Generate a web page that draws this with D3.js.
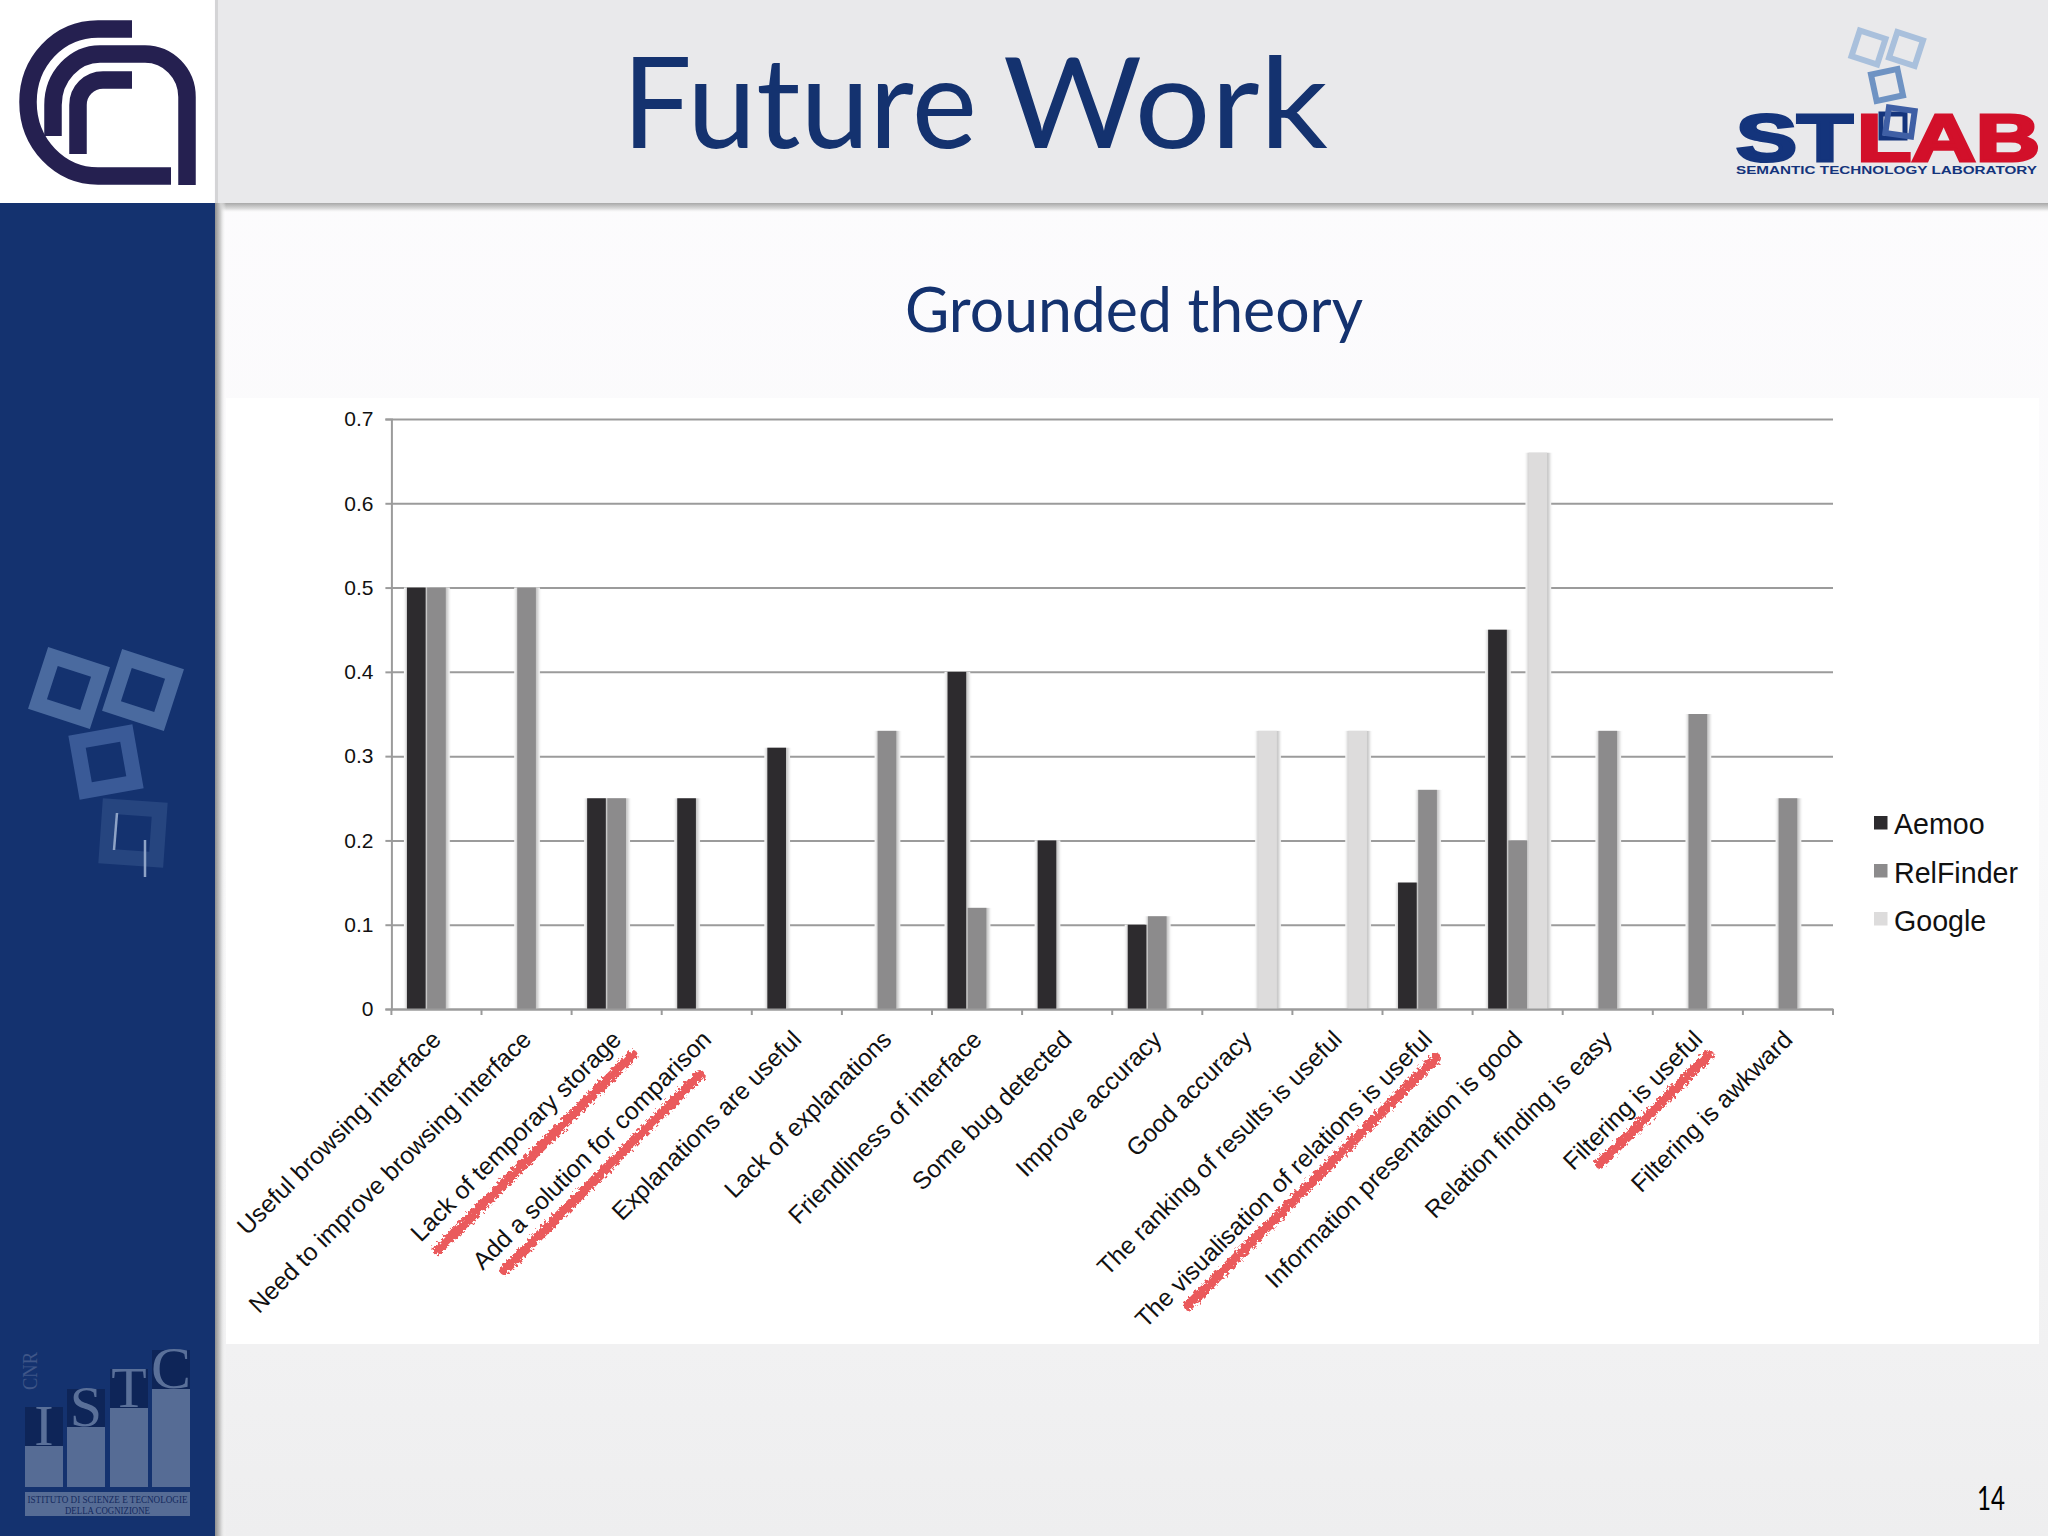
<!DOCTYPE html>
<html><head><meta charset="utf-8">
<script src="https://cdn.jsdelivr.net/npm/d3@7"></script>
<style>html,body{margin:0;padding:0;background:#fff}svg{display:block}</style>
</head><body><div id="c"></div>
<script>
const categories = ["Useful browsing interface","Need to improve browsing interface","Lack of temporary storage","Add a solution for comparison","Explanations are useful","Lack of explanations","Friendliness of interface","Some bug detected","Improve accuracy","Good accuracy","The ranking of results is useful","The visualisation of relations is useful","Information presentation is good","Relation finding is easy","Filtering is useful","Filtering is awkward"];
const seriesNames = ["Aemoo","RelFinder","Google"];
const aemoo     = [0.5,null,0.25,0.25,0.31,null,0.4,0.2,0.1,null,null,0.15,0.45,null,null,null];
const relFinder = [0.5,0.5,0.25,null,null,0.33,0.12,null,0.11,null,null,0.26,0.2,0.33,0.35,0.25];
const google    = [null,null,null,null,null,null,null,null,null,0.33,0.33,null,0.66,null,null,null];
const yTicks = [0,0.1,0.2,0.3,0.4,0.5,0.6,0.7];
const colors = ["#2d2b2e","#8c8b8c","#dddcdc"];
const struck = ["Lack of temporary storage","Add a solution for comparison","The visualisation of relations is useful","Filtering is useful"];

const NAVY="#14326f", INK="#111";
const svg=d3.select("#c").append("svg").attr("width",2048).attr("height",1536).attr("viewBox","0 0 2048 1536");
const defs=svg.append("defs");
function grad(id,x2,y2,stops){const g=defs.append("linearGradient").attr("id",id).attr("x1",0).attr("y1",0).attr("x2",x2).attr("y2",y2);
 stops.forEach(s=>g.append("stop").attr("offset",s[0]).attr("stop-color",s[1]).attr("stop-opacity",s[2]===undefined?1:s[2]));}
grad("bg",0,1,[[0,"#fdfcfe"],[0.55,"#f9f9fa"],[1,"#eeeeef"]]);
grad("shR",1,0,[[0,"#8f8f8f"],[0.5,"#cfcfcf"],[1,"#fff",0]]);
grad("shB",0,1,[[0,"#a8a8a8"],[0.6,"#dedede"],[1,"#fff",0]]);
const rough=defs.append("filter").attr("id","rough").attr("x","-10%").attr("y","-10%").attr("width","120%").attr("height","120%");
rough.append("feTurbulence").attr("type","fractalNoise").attr("baseFrequency",0.3).attr("numOctaves",3).attr("seed",4);
rough.append("feDisplacementMap").attr("in","SourceGraphic").attr("scale",7);
const soft=defs.append("filter").attr("id","soft").attr("x","-40%").attr("width","180%");
soft.append("feGaussianBlur").attr("stdDeviation","1.4 0");

// slide background
svg.append("rect").attr("width",2048).attr("height",1536).attr("fill","url(#bg)");
svg.append("rect").attr("x",215).attr("y",0).attr("width",1833).attr("height",203).attr("fill","#e9e9eb");
svg.append("rect").attr("x",215).attr("y",203).attr("width",1833).attr("height",10).attr("fill","url(#shB)");
svg.append("rect").attr("x",215).attr("y",0).attr("width",3).attr("height",203).attr("fill","#d4d4d6");
svg.append("rect").attr("width",214).attr("height",203).attr("fill","#fff");
svg.append("rect").attr("x",0).attr("y",203).attr("width",215).attr("height",1333).attr("fill",NAVY);
svg.append("rect").attr("x",215).attr("y",203).attr("width",11).attr("height",1333).attr("fill","url(#shR)");
svg.append("rect").attr("x",226).attr("y",398).attr("width",1813).attr("height",946).attr("fill","#fff");

// titles
svg.append("text").attr("x",622).attr("y",148).attr("textLength",355).attr("lengthAdjust","spacingAndGlyphs")
 .attr("font-family","Lato").attr("font-size",126).attr("fill",NAVY).text("Future");
svg.append("text").attr("x",1003).attr("y",148).attr("textLength",325).attr("lengthAdjust","spacingAndGlyphs")
 .attr("font-family","Lato").attr("font-size",126).attr("fill",NAVY).text("Work");
svg.append("text").attr("x",905).attr("y",332).attr("textLength",458).attr("lengthAdjust","spacingAndGlyphs")
 .attr("font-family","Lato").attr("font-size",62).attr("fill",NAVY).text("Grounded theory");
svg.append("text").attr("x",1977).attr("y",1510).attr("textLength",28).attr("lengthAdjust","spacingAndGlyphs").attr("font-family","Lato").attr("font-weight",400).attr("font-size",33).attr("fill","#000").text("14");

// CNR logo
const cnr=svg.append("g").attr("fill","none").attr("stroke","#252050").attr("stroke-width",17.5);
["M132,29 H98 C58,29 28,62 28,102 C28,144 60,176 98,176 H171",
 "M53,136 V105 C53,76 75,54 100,54 H145 C168,54 187,73 187,97 V185",
 "M132,80 H103 C89,80 78,91 78,105 V154"].forEach(d=>cnr.append("path").attr("d",d));

// rings
function ring(g,cx,cy,side,sw,rot,col){g.append("rect").attr("x",-side/2).attr("y",-side/2).attr("width",side).attr("height",side)
 .attr("transform",`translate(${cx},${cy}) rotate(${rot})`).attr("fill","none").attr("stroke",col).attr("stroke-width",sw);}
const side=svg.append("g");
ring(side,69,688,50,15,18,"#4a6a9f");ring(side,143,690,50,15,18,"#4a6a9f");
ring(side,106,762,50,15,-10,"#3a5a97");ring(side,133,833,50,15,4,"#26457f");
[[117,813,114,850],[145,840,145,877]].forEach(l=>side.append("line").attr("x1",l[0]).attr("y1",l[1]).attr("x2",l[2]).attr("y2",l[3]).attr("stroke","#8ea3c6").attr("stroke-width",2.5));

// STLAB logo
const st=svg.append("g");
ring(st,1868.5,47.5,27,6,18,"#a9c0dc");ring(st,1906,49,27,6,18,"#a9c0dc");ring(st,1887,85,27,6,-12,"#6f93c3");
st.append("text").attr("x",1736).attr("y",161).attr("textLength",117).attr("lengthAdjust","spacingAndGlyphs").attr("font-family","Liberation Sans").attr("font-weight",700).attr("font-size",66).attr("fill","#14347c").attr("stroke","#14347c").attr("stroke-width",3).text("ST");
st.append("text").attr("x",1857).attr("y",161).attr("textLength",183).attr("lengthAdjust","spacingAndGlyphs").attr("font-family","Liberation Sans").attr("font-weight",700).attr("font-size",66).attr("fill","#d2102a").attr("stroke","#d2102a").attr("stroke-width",3).text("LAB");
ring(st,1893,126,24,5,0,"#14347c");ring(st,1900,122,26,6,8,"#3f5fa5");
st.append("text").attr("x",1736).attr("y",174).attr("textLength",301).attr("lengthAdjust","spacingAndGlyphs").attr("font-family","Liberation Sans").attr("font-weight",700).attr("font-size",10).attr("fill","#14347c").text("SEMANTIC TECHNOLOGY LABORATORY");

// ISTC logo
const ist=svg.append("g");
const istBars=[["I",25,1446,1407],["S",67,1427,1389],["T",110,1408,1369],["C",152,1389,1350]];
istBars.forEach(b=>{
 ist.append("rect").attr("x",b[1]).attr("y",b[2]).attr("width",38).attr("height",1487-b[2]).attr("fill","#566c95");
 ist.append("rect").attr("x",b[1]).attr("y",b[3]).attr("width",38).attr("height",b[2]-b[3]).attr("fill","#0e2558");
 ist.append("text").attr("x",b[1]+19).attr("y",b[2]-1).attr("text-anchor","middle").attr("font-family","Liberation Serif").attr("font-size",b[0]==="C"?60:58).attr("fill","#5a7099").text(b[0]);
});
ist.append("text").attr("transform","translate(37,1390) rotate(-90)").attr("font-family","Liberation Serif").attr("font-size",20).attr("textLength",38).attr("lengthAdjust","spacingAndGlyphs").attr("fill","#3f5688").text("CNR");
ist.append("rect").attr("x",25).attr("y",1492).attr("width",165).attr("height",24).attr("fill","#566c95");
ist.append("text").attr("x",107.5).attr("y",1503).attr("text-anchor","middle").attr("textLength",160).attr("lengthAdjust","spacingAndGlyphs").attr("font-family","Liberation Serif").attr("font-size",10).attr("fill","#14295e").text("ISTITUTO DI SCIENZE E TECNOLOGIE");
ist.append("text").attr("x",107.5).attr("y",1514).attr("text-anchor","middle").attr("textLength",85).attr("lengthAdjust","spacingAndGlyphs").attr("font-family","Liberation Serif").attr("font-size",10).attr("fill","#14295e").text("DELLA COGNIZIONE");

// chart
const x=d3.scaleBand().domain(categories).range([391.4,1833]);
const y=d3.scaleLinear().domain([0,0.7]).range([1009,419]);
const half=29.5;
const x1=d3.scaleBand().domain(seriesNames).range([x.bandwidth()/2-half,x.bandwidth()/2+half]).paddingInner(0.075);
const GRID="#9b9b9b", FONT="Liberation Sans";

const gridAxis=d3.axisLeft(y).tickValues(yTicks).tickSize(-(1833-391.4)).tickFormat("");
svg.append("g").attr("transform","translate(391.4,0)").call(gridAxis)
 .call(g=>g.select(".domain").remove())
 .call(g=>g.selectAll("line").attr("stroke",GRID).attr("stroke-width",2));

const table=[aemoo,relFinder,google];
const marks=[];
table.forEach((vals,s)=>vals.forEach((v,i)=>{if(v!==null)marks.push({cat:categories[i],s:seriesNames[s],v,color:colors[s]});}));
const bars=svg.append("g");
bars.selectAll("rect.halo").data(marks).join("rect").attr("class","halo")
 .attr("x",d=>x(d.cat)+x1(d.s)-3).attr("width",x1.bandwidth()+7)
 .attr("y",d=>y(d.v)).attr("height",d=>y(0)-y(d.v)-1).attr("fill","#fff");
bars.selectAll("rect.shadow").data(marks).join("rect").attr("class","shadow").attr("filter","url(#soft)")
 .attr("x",d=>x(d.cat)+x1(d.s)-1).attr("width",x1.bandwidth()+3.5)
 .attr("y",d=>y(d.v)).attr("height",d=>y(0)-y(d.v)-1).attr("fill","#c4c4c4");
bars.selectAll("rect.bar").data(marks).join("rect").attr("class","bar")
 .attr("x",d=>x(d.cat)+x1(d.s)).attr("width",x1.bandwidth())
 .attr("y",d=>y(d.v)).attr("height",d=>y(0)-y(d.v)).attr("fill",d=>d.color);

const yAxis=d3.axisLeft(y).tickValues(yTicks).tickSize(6).tickPadding(12).tickFormat(d=>d===0?"0":d3.format(".1f")(d));
svg.append("g").attr("transform","translate(391.4,0)").call(yAxis)
 .call(g=>g.selectAll("path,line").attr("stroke",GRID).attr("stroke-width",2))
 .call(g=>g.selectAll("text").attr("font-family",FONT).attr("font-size",21).attr("fill",INK));

const xAxis=d3.axisBottom(x).tickSize(0).tickSizeOuter(0);
const xg=svg.append("g").attr("transform","translate(0,1009)").call(xAxis);
xg.select(".domain").attr("stroke",GRID).attr("stroke-width",2);
xg.selectAll("text").attr("font-family",FONT).attr("font-size",24.6).attr("fill",INK)
 .attr("text-anchor","end").attr("dy",0).attr("y",0)
 .attr("transform","translate(6,32) rotate(-45)");
xg.selectAll(".edge").data(categories.concat([null])).join("line").attr("class","edge")
 .attr("x1",(d,i)=>x.range()[0]+i*x.step()).attr("x2",(d,i)=>x.range()[0]+i*x.step())
 .attr("y1",0).attr("y2",6).attr("stroke",GRID).attr("stroke-width",2);

// hand-drawn strike-throughs, placed relative to each struck category's centre: [end dx, end dy, length]
const strikeGeom=[[16,1055,276],[-7,1075,276],[8.5,1058,350],[11,1055,154]];
const strikes=svg.append("g").attr("filter","url(#rough)");
struck.forEach((c,i)=>{
 const g=strikeGeom[i], ex=x(c)+x.bandwidth()/2+g[0], ey=g[1], k=g[2]*Math.SQRT1_2;
 strikes.append("line").attr("x1",ex-k).attr("y1",ey+k).attr("x2",ex).attr("y2",ey)
  .attr("stroke","#ea5a5c").attr("stroke-width",10).attr("stroke-linecap","round");
});

// legend
const lx=1874, legY=[[816,834],[864,883],[912,931]];
seriesNames.forEach((n,i)=>{
 svg.append("rect").attr("x",lx).attr("y",legY[i][0]).attr("width",13.5).attr("height",13.5).attr("fill",colors[i]);
 svg.append("text").attr("x",lx+20).attr("y",legY[i][1]).attr("font-family",FONT).attr("font-size",28.6).attr("fill",INK).text(n);
});
</script></body></html>
